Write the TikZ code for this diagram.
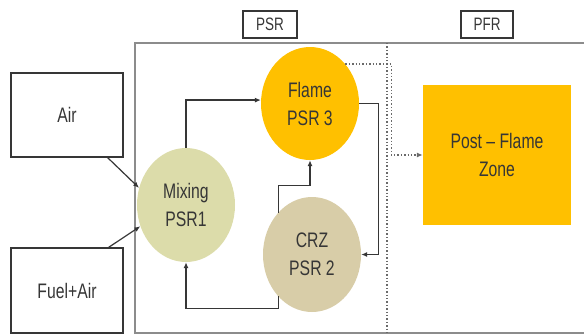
\documentclass[tikz,border=0pt]{standalone}
\usepackage{fontspec}
\setmainfont{Liberation Sans}[FakeStretch=0.75]
\usetikzlibrary{shapes.geometric,arrows.meta}
\definecolor{flamegold}{HTML}{FFC000}
\definecolor{mixolive}{HTML}{DCDCAA}
\definecolor{crzbeige}{HTML}{D8CDA8}
\definecolor{inkgray}{HTML}{363636}
\definecolor{framegray}{HTML}{8C8C8C}
\definecolor{dotgray}{HTML}{6A6A6A}
\tikzset{
  zone/.style={ellipse,minimum width=98pt,minimum height=114pt,inner sep=0pt,
    align=center,text=inkgray,font=\fontsize{21}{28}\selectfont},
  feed/.style={draw=inkgray,line width=1.3pt,minimum width=112pt,minimum height=84pt,
    text=inkgray,font=\fontsize{21}{28}\selectfont},
  tag/.style={draw=inkgray,line width=1.1pt,minimum height=27pt,inner sep=0pt,
    text=inkgray,font=\fontsize{18}{20}\selectfont},
  flow/.style={draw=inkgray,line width=1.2pt,-{Latex[length=6pt,width=5pt]}},
  leak/.style={draw=dotgray,line width=1.4pt,dotted,-{Latex[length=6pt,width=5pt]}}
}
\begin{document}
\begin{tikzpicture}[x=1pt,y=-1pt]
\useasboundingbox (0,0) rectangle (584,335);
\draw[framegray,line width=1.6pt] (584,43) -- (135,43) -- (135,333) -- (584,333);
\draw[dotgray,line width=1.4pt,dotted] (387,43) -- (387,333);

\node[tag,minimum width=54pt] (psr) at (270,24.5) {PSR};
\node[tag,minimum width=52pt] (pfr) at (487,24.5) {PFR};

\node[feed] (air) at (67,115) {Air};
\node[feed,minimum height=85pt] (fuel) at (67,290.5) {Fuel+Air};

\node[zone,fill=mixolive] (mix) at (186,205) {Mixing\\PSR1};
\node[zone,fill=flamegold,minimum height=113pt] (flame) at (310,103.5) {Flame\\PSR 3};
\node[zone,fill=crzbeige,minimum height=115pt] (crz) at (312,254.5) {CRZ\\PSR 2};
\node[fill=flamegold,minimum width=148pt,minimum height=140pt,inner sep=0pt,
  align=center,text=inkgray,font=\fontsize{21}{28}\selectfont] (post) at (497,155)
  {Post -- Flame\\Zone};

\draw[flow] ([xshift=-16pt]air.south east) -- (mix.160);
\draw[flow] ([xshift=-15pt]fuel.north east) -- (mix.205);
\draw[flow] (mix.north) |- (flame.176);
\draw[flow] (flame.east) -- ++(19,0) |- (crz.east);
\draw[flow] (crz.129) -- ++(0,-27) -| (flame.south);
\draw[flow] (crz.231) -- ++(0,12) -| (mix.south);
\draw[leak] (flame.48) -- ++(46,0) |- (post.west);
\end{tikzpicture}
\end{document}
